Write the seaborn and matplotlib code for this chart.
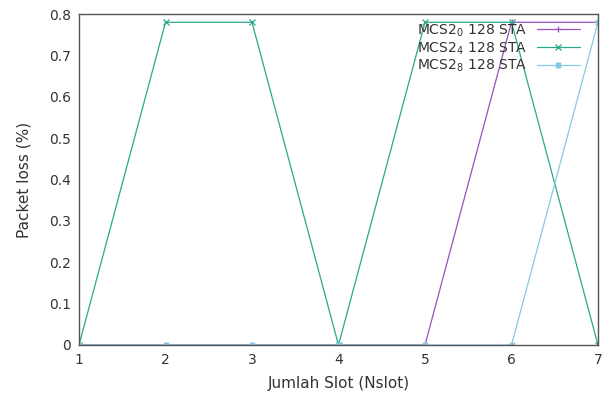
import matplotlib
matplotlib.use("Agg")
import matplotlib.pyplot as plt
import seaborn as sns
import pandas as pd

# Packet loss per number of slots, for three MCS settings with 128 stations
slots = [1, 2, 3, 4, 5, 6, 7]
loss_mcs0 = [0, 0, 0, 0, 0, 0.78, 0.78]
loss_mcs4 = [0, 0.78, 0.78, 0, 0.78, 0.78, 0]
loss_mcs8 = [0, 0, 0, 0, 0, 0, 0.78]
series_labels = ["MCS2$_0$ 128 STA", "MCS2$_4$ 128 STA", "MCS2$_8$ 128 STA"]
y_ticks = [0, 0.1, 0.2, 0.3, 0.4, 0.5, 0.6, 0.7, 0.8]

df = pd.DataFrame({
    "slot": slots * 3,
    "loss": loss_mcs0 + loss_mcs4 + loss_mcs8,
    "series": [series_labels[0]] * 7 + [series_labels[1]] * 7 + [series_labels[2]] * 7,
})

sns.set_style("white")
plt.rcParams["font.family"] = ["DejaVu Sans"]

fig = plt.figure(figsize=(6.02, 4.01), dpi=100)
ax = fig.add_axes([79 / 602, 56 / 401, (598 - 79) / 602, (345 - 14) / 401])

colors = ["#9a4fbf", "#2aa88a", "#86c8e6"]
markers = ["+", "x", (8, 2, 0)]
for lab, col, mk in zip(series_labels, colors, markers):
    sub = df[df["series"] == lab]
    sns.lineplot(data=sub, x="slot", y="loss", ax=ax, color=col, marker=mk,
                 markersize=5, markeredgewidth=0.9, linewidth=0.9, label=lab,
                 markeredgecolor=col)

ax.set_xlim(1, 7)
ax.set_ylim(0, 0.8)
ax.set_xticks(slots)
ax.set_yticks(y_ticks)
ax.set_yticklabels(["0", "0.1", "0.2", "0.3", "0.4", "0.5", "0.6", "0.7", "0.8"])
ax.tick_params(axis="both", direction="in", length=5, color="#555555",
               labelsize=10, labelcolor="#333333", pad=6)
ax.tick_params(axis="x", length=0)
for sp in ax.spines.values():
    sp.set_color("#555555")
    sp.set_linewidth(1.0)
    sp.set_zorder(5)

ax.set_xlabel("Jumlah Slot (Nslot)", fontsize=11, color="#333333", labelpad=6)
ax.set_ylabel("Packet loss (%)", fontsize=11, color="#333333", labelpad=12)

leg = ax.legend(loc="upper right", bbox_to_anchor=(0.981, 1.0), frameon=False,
                markerfirst=False, fontsize=10, handlelength=3.1,
                borderaxespad=0.2, labelspacing=0.1, handletextpad=0.7)
for t in leg.get_texts():
    t.set_color("#333333")

fig.savefig("out.png", dpi=100)
